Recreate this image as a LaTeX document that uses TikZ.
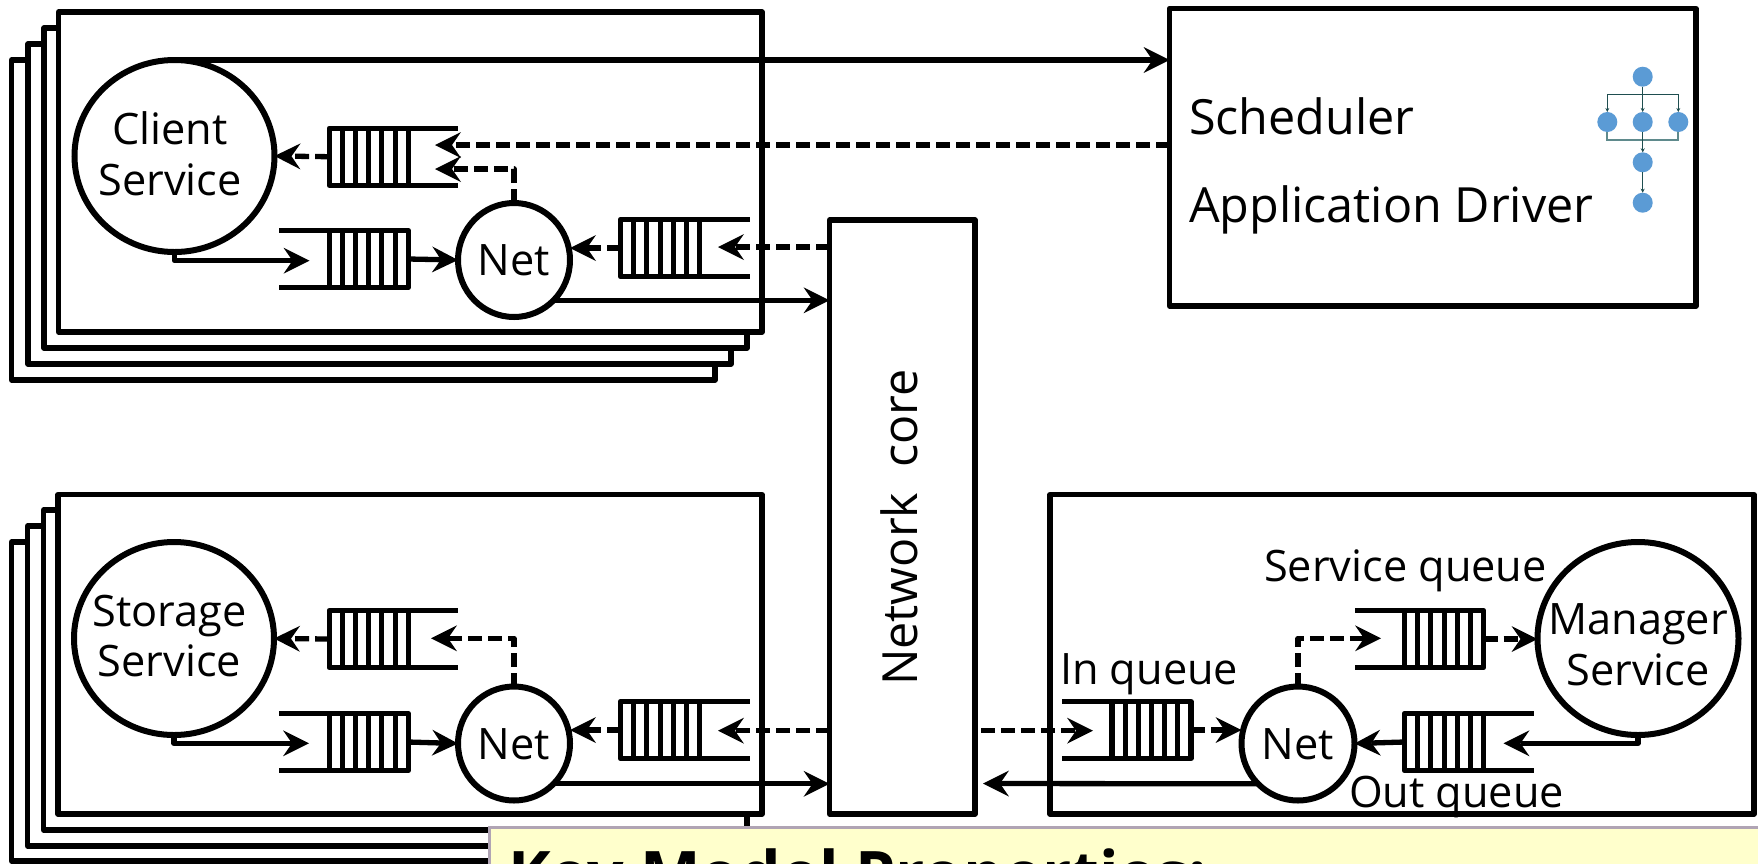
\documentclass[tikz,border=0pt]{standalone}
\usepackage{fontspec}
\setmainfont{Open Sans}
\usetikzlibrary{arrows.meta,calc,shapes.geometric}
\definecolor{dagblue}{HTML}{5B9BD5}
\definecolor{dagline}{HTML}{1F4E50}
\definecolor{dagfade}{HTML}{5F8A8C}
\definecolor{noteyellow}{HTML}{FFFFCC}
\definecolor{noteedge}{HTML}{B0A4B4}
\tikzset{
  lw/.style={line width=5.3pt,line join=round},
  panel/.style={draw,lw,fill=white,rectangle,inner sep=0pt,outer sep=0pt},
  bubble/.style={draw,line width=6pt,fill=white,ellipse,inner sep=-40pt,outer sep=0pt,align=center,font=\fontsize{43.3}{50.5}\selectfont},
  qbody/.style={draw,lw,rectangle,inner sep=0pt,outer sep=0pt,minimum width=79pt,minimum height=57pt},
  qline/.style={line width=5pt},
  qedge/.style={lw},
  solidarrow/.style={lw,-{Stealth[length=26pt,width=26pt,inset=9pt,line width=0pt]}},
  dasharrow/.style={lw,dash pattern=on 14pt off 6pt,-{Stealth[length=26pt,width=26pt,inset=9pt,line width=0pt]}},
  txt/.style={inner sep=0pt,outer sep=0pt,anchor=base,font=\fontsize{43.3}{50}\selectfont},
  bigtxt/.style={txt,font=\fontsize{48.5}{50}\selectfont},
  dagnode/.style={circle,fill=dagblue,minimum size=20pt,inner sep=0pt,outer sep=0pt},
  dagedge/.style={dagline,line width=1.4pt},
  dagarrow/.style={dagedge,-{Stealth[length=4pt,width=4pt]}},
  dagmerge/.style={dagfade,line width=2pt},
}
\newcommand{\panelbox}[5]{%
  \pgfmathsetmacro{\pw}{#4-#2}\pgfmathsetmacro{\ph}{#5-#3}%
  \pgfmathsetmacro{\pcx}{(#4+#2)/2}\pgfmathsetmacro{\pcy}{(#5+#3)/2}%
  \node[panel,minimum width=\pw pt,minimum height=\ph pt] (#1) at (\pcx,\pcy) {};}
\newcommand{\queuebox}[5]{%
  \node[qbody] (#1) at (#2,#3) {};
  \foreach \qi in {1,...,5}
    \draw[qline] ($(#1.north west)!\qi/6!(#1.north east)$) -- ($(#1.south west)!\qi/6!(#1.south east)$);
  \draw[qedge] (#1.north #4) -- ++(#5,0);
  \draw[qedge] (#1.south #4) -- ++(#5,0);}
\newcommand{\lowdepth}{\rule[-5.3pt]{9pt}{0pt}}
\newcommand{\shiftleft}{\rule{9pt}{0pt}}
\begin{document}
\begin{tikzpicture}[x=1pt,y=-1pt]
\useasboundingbox (0,0) rectangle (1758,863);
\clip (0,0) rectangle (1758,863);

% client stack
\panelbox{c4}{11.5}{60}{715}{380}
\panelbox{c3}{28}{44}{731}{364}
\panelbox{c2}{44}{28}{747}{348}
\panelbox{c1}{58.5}{12}{762}{332}
% storage stack
\panelbox{s4}{11.5}{542}{715}{861}
\panelbox{s3}{27.5}{526}{731}{846}
\panelbox{s2}{43.5}{510}{747}{830}
\panelbox{s1}{58}{494.5}{762}{814}
% manager panel, scheduler, network core
\panelbox{m1}{1050}{494.5}{1754}{814}
\panelbox{sched}{1169.5}{8.5}{1696}{306}
\panelbox{core}{829.5}{220}{975}{814}

\node[bigtxt,rotate=90] (corelabel) at (917.7,527.5) {Network\ \ core};
\node[bigtxt,anchor=base west] (schedlabel) at (1189,134.5) {Scheduler};
\node[bigtxt,anchor=base west] (applabel) at (1189,222) {Application Driver};

% client group
\node[bubble,minimum width=200pt,minimum height=192pt] (client) at (174.5,156) {Client\shiftleft\\Service\lowdepth};
\node[bubble,minimum width=112pt,minimum height=114pt] (cnet) at (514,260) {Net};
\queuebox{cq1}{368.7}{156.7}{east}{50}
\queuebox{cq2}{368.7}{259}{west}{-50}
\queuebox{cq3}{660}{248}{east}{50}
\coordinate (cq1a) at (435,145);
\coordinate (cq1b) at (435,169);
\coordinate (cq2t) at (309.5,260.7);
\coordinate (cq3t) at (718,247);
\draw[solidarrow] (client.north) -- (sched.west |- client.north);
\draw[dasharrow] (sched.west |- cq1a) -- (cq1a);
\draw[dasharrow] (cnet.north) |- (cq1b);
\draw[dasharrow] (cq1.west) -- (client.east);
\draw[solidarrow] (client.south) |- (cq2t);
\draw[solidarrow] (cq2.east) -- (cnet.west);
\draw[dasharrow] (core.west |- cq3t) -- (cq3t);
\draw[dasharrow] (cq3.west) -- (cq3.west -| cnet.east);
\draw[solidarrow] (cnet.south east) -- (core.west |- cnet.south east);

% storage group
\node[bubble,minimum width=200pt,minimum height=193pt] (storage) at (174,638.5) {Storage\shiftleft\\Service\lowdepth};
\node[bubble,minimum width=112pt,minimum height=114pt] (snet) at (514,743.5) {\rule{0pt}{33pt}Net};
\queuebox{sq1}{368.7}{639}{east}{50}
\queuebox{sq2}{368.7}{742}{west}{-50}
\queuebox{sq3}{660}{730}{east}{50}
\coordinate (sq1t) at (431,638.3);
\coordinate (sq2t) at (309,743.3);
\coordinate (sq3t) at (718,730.7);
\draw[dasharrow] (snet.north) |- (sq1t);
\draw[dasharrow] (sq1.west) -- (storage.east);
\draw[solidarrow] (storage.south) |- (sq2t);
\draw[solidarrow] (sq2.east) -- (snet.west);
\draw[dasharrow] (core.west |- sq3t) -- (sq3t);
\draw[dasharrow] (sq3.west) -- (sq3.west -| snet.east);
\draw[solidarrow] (snet.south east) -- (core.west |- snet.south east);

% manager group
\node[bubble,minimum width=201pt,minimum height=193pt] (manager) at (1638,638.5) {\rule{0pt}{43pt}Manager\\Service};
\node[bubble,minimum width=113pt,minimum height=114pt] (mnet) at (1298,743.5) {\rule{0pt}{33pt}Net};
\queuebox{mq1}{1151.6}{730}{west}{-50}
\queuebox{mq2}{1444}{639}{west}{-50}
\queuebox{mq3}{1444}{742}{east}{50}
\coordinate (mq1t) at (1093,730.7);
\coordinate (mq1s) at (983,783.5);
\coordinate (mq2t) at (1381,638.3);
\coordinate (mq3t) at (1503.5,743.3);
\draw[dasharrow,dash phase=14pt] (core.east |- mq1t) -- (mq1t);
\draw[dasharrow] (mq1.east) -- (mq1.east -| mnet.west);
\draw[dasharrow] (mnet.north) |- (mq2t);
\draw[dasharrow] (mq2.east) -- (mq2.east -| manager.west);
\draw[solidarrow] (manager.south) |- (mq3t);
\draw[solidarrow] (mq3.west) -- (mnet.east);
\draw[solidarrow] (mnet.south west) -- (mq1s);
\node[txt,anchor=base west] (inlabel) at (1060,684.5) {In queue};
\node[txt,anchor=base west] (svclabel) at (1264,581.5) {Service queue};
\node[txt,anchor=base west] (outlabel) at (1349,807.5) {Out queue};

% task graph
\node[dagnode] (d1) at (1642.7,76.7) {};
\node[dagnode] (d2) at (1607.3,122) {};
\node[dagnode] (d3) at (1642.7,122) {};
\node[dagnode] (d4) at (1678.3,122) {};
\node[dagnode] (d5) at (1642.7,162.3) {};
\node[dagnode] (d6) at (1642.7,202.7) {};
\coordinate (dsplit) at (1642.7,94.3);
\coordinate (dmerge) at (1642.7,140);
\draw[dagmerge] (d2.south) |- (dmerge);
\draw[dagmerge] (d4.south) |- (dmerge);
\draw[dagedge] (d3.south) -- (dmerge);
\draw[dagarrow] (dmerge) -- (d5.north);
\draw[dagedge] (d1.south) -- (dsplit);
\draw[dagarrow] (dsplit) -| (d2.north);
\draw[dagarrow] (dsplit) -| (d4.north);
\draw[dagarrow] (dsplit) -- (d3.north);
\draw[dagarrow] (d5.south) -- (d6.north);

% note box, cut by the lower edge
\node[draw=noteedge,fill=noteyellow,line width=2.5pt,rectangle,inner sep=0pt,outer sep=0pt,minimum width=1320pt,minimum height=80pt,anchor=north west] (note) at (489.6,827.7) {};
\node[txt,anchor=base west,font=\fontsize{64.2}{70}\selectfont\bfseries] (notelabel) at (508,897.5) {Key Model Properties:};
\end{tikzpicture}
\end{document}
